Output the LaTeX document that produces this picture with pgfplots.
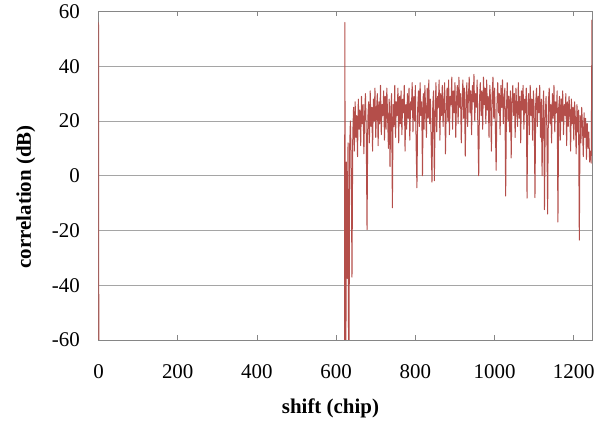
\documentclass[border=0pt]{standalone}
\usepackage{fontspec}
\setmainfont{Liberation Serif}
\usepackage{pgfplots}
\pgfplotsset{compat=1.18}
\definecolor{serie}{RGB}{180,78,74}
\definecolor{axgray}{RGB}{134,134,134}
\definecolor{gridgray}{RGB}{165,165,165}
\begin{document}
\begin{tikzpicture}
\useasboundingbox (-98.5bp,-81bp) rectangle (510.5bp,340bp);
\begin{axis}[
  at={(0,0)}, anchor=south west,
  scale only axis, width=493.5bp, height=328.5bp,
  xmin=0, xmax=1246, ymin=-60, ymax=60,
  xtick={0,200,...,1200}, ytick={-60,-40,...,60},
  /pgf/number format/1000 sep={},
  /pgf/number format/assume math mode=true,
  axis line style={axgray, line width=0.8bp},
  ymajorgrids, grid style={gridgray, line width=0.8bp},
  tick align=inside, major tick length=5bp,
  xtick style={axgray, line width=0.8bp},
  ytick style={draw=none},
  every tick label/.append style={font=\fontsize{21}{25}\selectfont, inner sep=0pt},
  xticklabel style={anchor=north, yshift=-24bp},
  yticklabel style={anchor=east, xshift=-18.5bp},
  xlabel={\textbf{shift (chip)}},
  ylabel={\textbf{correlation (dB)}},
  label style={font=\fontsize{21}{25}\selectfont},
  xlabel style={at={(axis description cs:0.47,-0.207)}, anchor=center},
  ylabel style={at={(axis description cs:-0.147,0.436)}, anchor=center},
  clip=true,
]
\addplot[serie, line width=1bp, mark=none, line join=round] coordinates {
(0,56) (1,-100) (621,-100) (622,56) (624,-100) (626,5) (628,-37.5) (630,12) (632,-100)
(634,10) (636,20) (638,6) (640,-37) (642,15) (644,25) (646,9) (648,27) (650,14) (652,22)
(654,7) (656,28) (658,17) (660,24) (662,11) (664,29) (666,19) (668,26) (670,8) (672,23)
(674,30) (676,16) (678,-19.7) (680,21) (682,27) (684,12) (686,31) (688,18) (690,25) (692,9)
(694,28) (696,20) (698,32) (700,14) (702,24) (704,30) (706,11) (708,27) (710,19) (712,33)
(714,15) (716,26) (718,22) (720,31) (722,13) (724,29) (726,17) (728,32) (730,21) (732,10)
(734,28) (736,3.3) (738,24) (740,30) (742,-11.7) (744,26) (746,18) (748,33) (750,14) (752,27)
(754,22) (756,32) (758,12) (760,29) (762,19) (764,31) (766,15) (768,28) (770,23) (772,33)
(774,9) (776,26) (778,17) (780,30) (782,21) (784,32) (786,13) (788,27) (790,24) (792,34)
(794,16) (796,29) (798,20) (800,33) (802,11) (804,-4.4) (806,25) (808,31) (810,18) (812,34)
(814,22) (816,27) (818,0) (820,30) (822,17) (824,33) (826,24) (828,14) (830,32) (832,21)
(834,35) (836,19) (838,28) (840,12) (842,-2.3) (844,26) (846,31) (848,-1.8) (850,23) (852,34)
(854,16) (856,29) (858,25) (860,35) (862,13) (864,30) (866,22) (868,33) (870,18) (872,27)
(874,34) (876,8) (878,24) (880,32) (882,20) (884,35) (886,15) (888,29) (890,26) (892,36)
(894,17) (896,31) (898,23) (900,34) (902,14) (904,28) (906,33) (908,19) (910,36) (912,25)
(914,30) (916,12) (918,27) (920,35) (922,21) (924,32) (926,7.2) (928,26) (930,34) (932,18)
(934,29) (936,36) (938,23) (940,31) (942,15) (944,33) (946,27) (948,37) (950,20) (952,30)
(954,25) (956,35) (958,16) (960,0) (962,28) (964,34) (966,22) (968,31) (970,17) (972,36)
(974,26) (976,32) (978,19) (980,35) (982,24) (984,29) (986,14) (988,33) (990,27) (992,9)
(994,30) (996,36) (998,21) (1000,32) (1002,18) (1004,2) (1006,26) (1008,34) (1010,23) (1012,30)
(1014,15) (1016,33) (1018,25) (1020,35) (1022,19) (1024,28) (1026,32) (1028,-7.4) (1030,24) (1032,34)
(1034,20) (1036,29) (1038,16) (1040,31) (1042,6.5) (1044,27) (1046,33) (1048,22) (1050,30) (1052,14)
(1054,32) (1056,25) (1058,18) (1060,34) (1062,21) (1064,29) (1066,12) (1068,31) (1070,24) (1072,33)
(1074,17) (1076,28) (1078,23) (1080,32) (1082,-8.2) (1084,26) (1086,30) (1088,15) (1090,33) (1092,22)
(1094,28) (1096,13) (1098,31) (1100,24) (1102,-8) (1104,27) (1106,32) (1108,18) (1110,29) (1112,23)
(1114,33) (1116,14) (1118,28) (1120,0) (1122,25) (1124,31) (1126,-12.4) (1128,22) (1130,29) (1132,17)
(1134,-14) (1136,27) (1138,32) (1140,19) (1142,26) (1144,12) (1146,30) (1148,21) (1150,33) (1152,16)
(1154,27) (1156,23) (1158,31) (1160,-16.9) (1162,25) (1164,29) (1166,13) (1168,28) (1170,20) (1172,31)
(1174,15) (1176,26) (1178,22) (1180,30) (1182,11) (1184,27) (1186,18) (1188,29) (1190,24) (1192,9)
(1194,28) (1196,19) (1198,25) (1200,13) (1202,27) (1204,21) (1206,8) (1208,26) (1210,16) (1212,24)
(1214,-23.5) (1216,22) (1218,12) (1220,25) (1222,18) (1224,7) (1226,23) (1228,14) (1230,21) (1232,6)
(1234,19) (1236,10) (1238,16) (1240,5) (1242,9) (1244,4.6) (1246,57)
};
\end{axis}
\end{tikzpicture}
\end{document}
